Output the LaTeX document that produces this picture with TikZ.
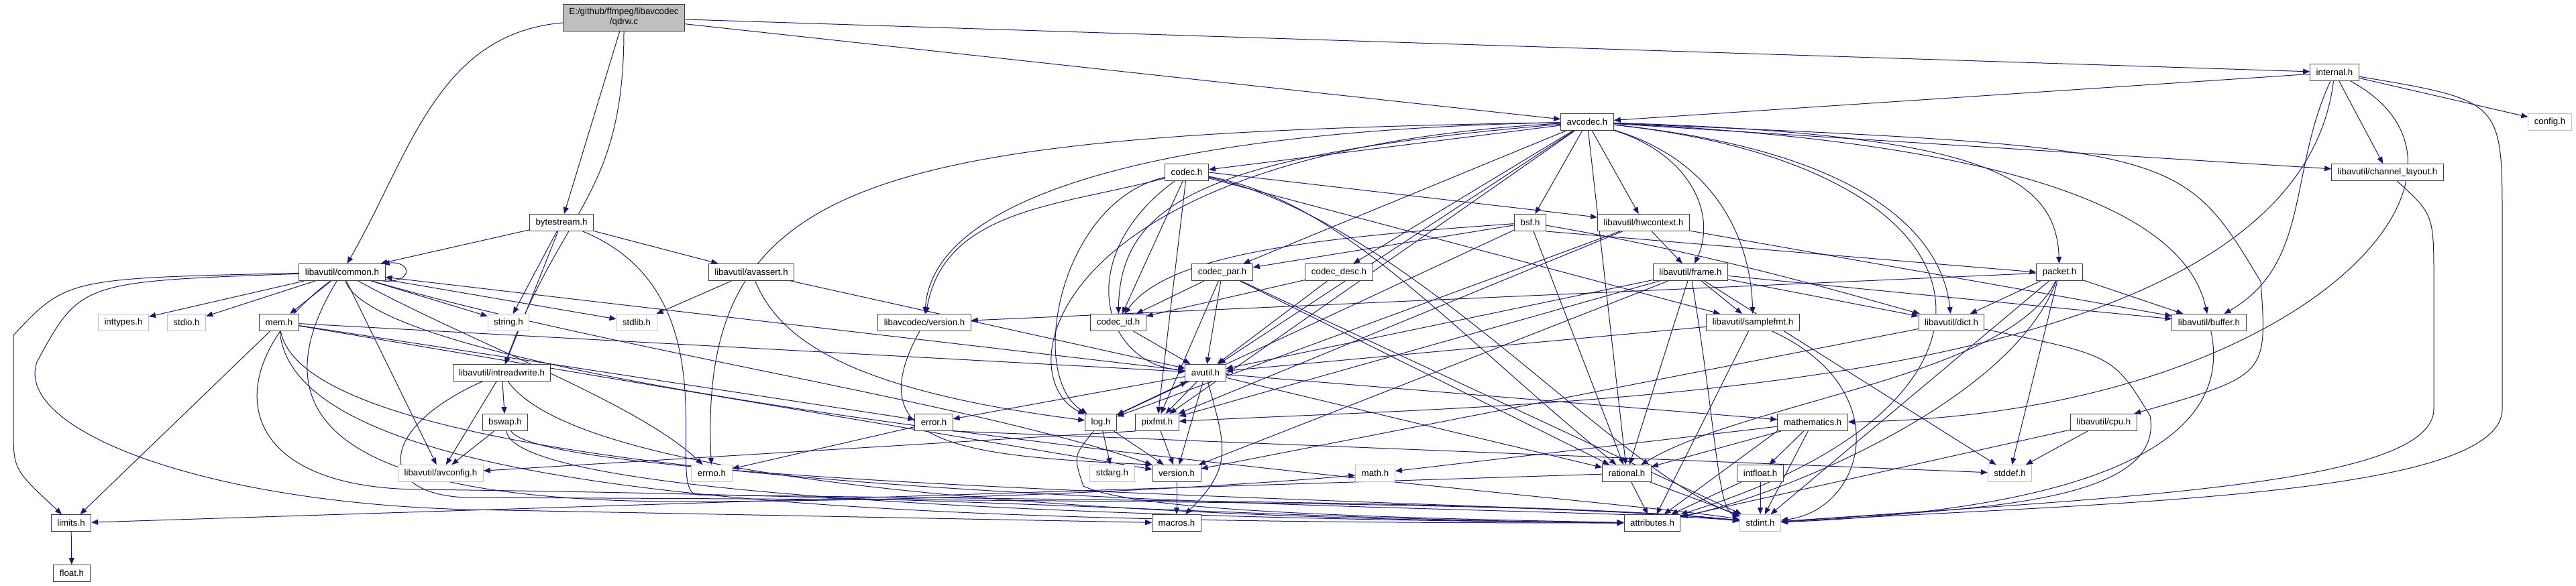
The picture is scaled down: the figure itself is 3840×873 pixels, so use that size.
\documentclass[tikz,border=0pt]{standalone}
\usepackage{fontspec}
\setmainfont{Liberation Sans}
\usetikzlibrary{arrows.meta, backgrounds}
\definecolor{depblue}{HTML}{191970}
\definecolor{hdredge}{HTML}{404040}
\definecolor{sysedge}{HTML}{BFBFBF}
\definecolor{rootfill}{HTML}{BFBFBF}

\begin{document}
\begin{tikzpicture}[x=1pt, y=1pt,
      hdr/.style={draw=hdredge, fill=white, line width=1pt, inner xsep=9pt, inner ysep=0pt,
                  minimum height=25pt, font=\fontsize{13.3}{15}\selectfont},
      syshdr/.style={hdr, draw=sysedge},
      root/.style={hdr, fill=rootfill, minimum height=40pt, align=center},
      dep/.style={draw=depblue, line width=1pt, -{Triangle[length=10pt, width=8pt]}}]
      \useasboundingbox (0,0) rectangle (3840,-873);

      % headers, rank by rank
      \node[root] (qdrw) at (930,-26) {E:/github/ffmpeg/libavcodec\\/qdrw.c};
      \node[hdr] (internal) at (3480,-108) {internal.h};
      \node[hdr] (avcodec) at (2366,-182) {avcodec.h};
      \node[syshdr] (config) at (3801,-182) {config.h};
      \node[hdr] (codec) at (1769,-257) {codec.h};
      \node[hdr] (chlayout) at (3559,-257) {libavutil/channel\_layout.h};
      \node[hdr] (bytestream) at (837,-332) {bytestream.h};
      \node[hdr] (bsf) at (2281,-332) {bsf.h};
      \node[hdr] (hwctx) at (2450,-332) {libavutil/hwcontext.h};
      \node[hdr] (common) at (510,-406) {libavutil/common.h};
      \node[hdr] (avassert) at (1120,-406) {libavutil/avassert.h};
      \node[hdr] (codecpar) at (1822,-406) {codec\_par.h};
      \node[hdr] (codecdesc) at (1996,-406) {codec\_desc.h};
      \node[hdr] (frame) at (2520,-406) {libavutil/frame.h};
      \node[hdr] (packet) at (3070,-406) {packet.h};
      \node[syshdr] (inttypes) at (184,-481) {inttypes.h};
      \node[syshdr] (stdio) at (278,-481) {stdio.h};
      \node[hdr] (mem) at (416,-481) {mem.h};
      \node[syshdr] (string) at (758,-481) {string.h};
      \node[syshdr] (stdlib) at (949,-481) {stdlib.h};
      \node[hdr] (lavcver) at (1378,-481) {libavcodec/version.h};
      \node[hdr] (codecid) at (1667,-481) {codec\_id.h};
      \node[hdr] (samplefmt) at (2613,-481) {libavutil/samplefmt.h};
      \node[hdr] (dict) at (2909,-481) {libavutil/dict.h};
      \node[hdr] (buffer) at (3293,-481) {libavutil/buffer.h};
      \node[hdr] (intrw) at (748,-556) {libavutil/intreadwrite.h};
      \node[hdr] (avutil) at (1797,-556) {avutil.h};
      \node[hdr] (bswap) at (753,-630) {bswap.h};
      \node[hdr] (error) at (1392,-630) {error.h};
      \node[hdr] (log) at (1641,-630) {log.h};
      \node[hdr] (pixfmt) at (1725,-630) {pixfmt.h};
      \node[hdr] (mathematics) at (2702,-630) {mathematics.h};
      \node[hdr] (cpu) at (3136,-630) {libavutil/cpu.h};
      \node[syshdr] (avconfig) at (657,-706) {libavutil/avconfig.h};
      \node[syshdr] (errno) at (1061,-706) {errno.h};
      \node[syshdr] (stdarg) at (1658,-706) {stdarg.h};
      \node[hdr] (version) at (1754,-706) {version.h};
      \node[syshdr] (math) at (2050,-706) {math.h};
      \node[hdr] (rational) at (2425,-706) {rational.h};
      \node[hdr] (intfloat) at (2624,-706) {intfloat.h};
      \node[syshdr] (stddef) at (2996,-706) {stddef.h};
      \node[hdr] (limits) at (106,-780) {limits.h};
      \node[hdr] (macros) at (1754,-780) {macros.h};
      \node[hdr] (attributes) at (2463,-780) {attributes.h};
      \node[syshdr] (stdint) at (2624,-780) {stdint.h};
      \node[hdr] (float) at (107,-855) {float.h};

      \begin{scope}[on background layer]
      \fill[white] (0,0) rectangle (3840,-873);

      % straight includes
      \foreach \a/\b in {qdrw/bytestream, qdrw/avcodec, qdrw/internal,
          internal/avcodec, internal/config, internal/chlayout,
          avcodec/codec, avcodec/bsf, avcodec/hwctx, avcodec/codecdesc, avcodec/codecpar,
          avcodec/avutil, avcodec/pixfmt, avcodec/chlayout, avcodec/rational,
          codec/codecid, codec/pixfmt, codec/samplefmt,
          codecpar/avutil, codecpar/codecid, codecpar/pixfmt, codecpar/rational, codecpar/stdint,
          codecdesc/codecid, codecdesc/avutil, codecid/avutil,
          bsf/codecpar, bsf/rational, bsf/log,
          hwctx/frame, hwctx/buffer, hwctx/log, hwctx/pixfmt,
          frame/dict, frame/buffer, frame/samplefmt, frame/avutil, frame/pixfmt,
          frame/version, frame/rational, frame/stddef,
          packet/dict, packet/buffer, packet/stddef, packet/stdint, packet/lavcver,
          samplefmt/avutil, samplefmt/attributes, dict/version,
          cpu/stddef, cpu/attributes,
          mathematics/math, mathematics/rational, mathematics/intfloat, mathematics/stdint,
          intfloat/stdint, intfloat/attributes,
          rational/attributes, rational/stdint, rational/limits,
          version/macros, log/stdarg, log/version, log/avutil, pixfmt/version, error/errno,
          avutil/common, avutil/error, avutil/log, avutil/pixfmt, avutil/version,
          avutil/rational, avutil/mathematics,
          mem/limits, mem/error, mem/avutil, mem/version,
          intrw/avconfig, intrw/bswap, bswap/avconfig,
          common/inttypes, common/stdio, common/mem, common/string, common/stdlib,
          common/avconfig,
          bytestream/common, bytestream/string, bytestream/intrw, bytestream/avassert,
          avassert/stdlib, avassert/avutil, limits/float}
        \draw[dep] (\a) -- (\b);

      \draw[dep] (codec.east) -- (hwctx);
      \draw[dep] (bsf.south east) -- (packet.west);
      \draw[dep] (pixfmt.south west) -- (avconfig);
      \draw[dep] (error.south east) -- (stddef);
      \draw[dep] (mathematics.south west) -- (attributes);

      % bent includes
      \draw[dep] (qdrw) to[out=185, in=60] (common);
      \draw[dep] (qdrw) to[out=-90, in=70, looseness=1.2] (intrw);
      \draw[dep] (internal) to[out=-115, in=30] (buffer);
      \draw[dep] (internal) .. controls (3420,-600) and (2300,-600) .. (pixfmt);
      \draw[dep] (internal) .. controls (3760,-260) and (3420,-620) .. (mathematics);
      \draw[dep] (internal) .. controls (3730,-150) .. (3730,-330) -- (3730,-610)
          .. controls (3730,-740) and (3150,-750) .. (stdint);
      \draw[dep] (chlayout) .. controls (3628,-320) .. (3628,-420) -- (3628,-610)
          .. controls (3628,-725) and (3150,-742) .. (stdint);
      \draw[dep] (avcodec) .. controls (2520,-230) and (2560,-320) .. (frame);
      \draw[dep] (avcodec) .. controls (2950,-200) and (3065,-260) .. (packet);
      \draw[dep] (avcodec) .. controls (3050,-215) and (3260,-330) .. (buffer);
      \draw[dep] (avcodec) .. controls (2780,-225) and (2895,-350) .. (dict);
      \draw[dep] (avcodec) .. controls (2560,-240) and (2610,-360) .. (samplefmt);
      \draw[dep] (avcodec) .. controls (3250,-220) .. (3370,-420) .. controls (3380,-560) .. (cpu);
      \draw[dep] (avcodec) .. controls (3000,-250) and (3050,-600) .. (attributes);
      \draw[dep] (avcodec) .. controls (1300,-200) and (1040,-260) .. (errno);
      \draw[dep] (avcodec) .. controls (1700,-195) and (1390,-300) .. (lavcver);
      \draw[dep] (avcodec) .. controls (1560,-225) and (1500,-560) .. (log);
      \draw[dep] (avcodec) .. controls (1800,-230) and (1670,-300) .. (codecid);
      \draw[dep] (codec) to[out=195, in=80] (lavcver);
      \draw[dep] (codec) .. controls (1580,-300) and (1530,-560) .. (log);
      \draw[dep] (codec) .. controls (1600,-380) and (1640,-540) .. (avutil);
      \draw[dep] (codec) .. controls (2000,-300) and (2150,-480) .. (rational);
      \draw[dep] (codec) .. controls (2100,-330) and (2400,-700) .. (stdint);
      \draw[dep] (bsf) .. controls (2560,-380) and (2760,-440) .. (dict);
      \draw[dep] (bsf) .. controls (1950,-355) and (1740,-380) .. (codecid);
      \draw[dep] (packet) .. controls (3000,-560) and (2600,-600) .. (rational);
      \draw[dep] (packet) .. controls (3000,-600) and (2650,-740) .. (attributes);
      \draw[dep] (frame) .. controls (2560,-650) and (2560,-760) .. (stdint);
      \draw[dep] (samplefmt) .. controls (2830,-580) and (2780,-760) .. (stdint);
      \draw[dep] (dict) .. controls (3150,-530) .. (3205,-620)
          .. controls (3230,-760) and (2900,-760) .. (stdint);
      \draw[dep] (buffer) .. controls (3340,-700) and (3000,-765) .. (stdint);
      \draw[dep] (lavcver) .. controls (1280,-660) and (1420,-680) .. (version.north west);
      \draw[dep] (log) .. controls (1600,-680) .. (1615,-725)
          .. controls (1680,-755) and (1900,-770) .. (attributes);
      \draw[dep] (avutil) to[out=-75, in=45, looseness=1.3] (macros);
      \draw[dep] (avassert) .. controls (1160,-500) and (1250,-580) .. (log);

      % long runs from the left along the bottom
      \draw[dep] (common) .. controls (100,-415) .. (20,-500) -- (20,-640)
          .. controls (20,-700) .. (limits);
      \draw[dep] (common) .. controls (120,-420) .. (55,-540)
          .. controls (20,-640) and (300,-750) .. (700,-760) -- (macros);
      \draw[dep] (common) .. controls (330,-540) and (330,-725) .. (620,-730)
          .. controls (1500,-740) and (1900,-775) .. (attributes);
      \draw[dep] (common) .. controls (582,-603) and (2417,-744) .. (stdint);
      \draw[dep] (common) .. controls (380,-620) and (500,-745) .. (1000,-748)
          .. controls (1500,-748) and (1900,-720) .. (math);
      \draw[dep] (common) .. controls (700,-510) and (950,-600) .. (errno);
      \draw[dep] (common) .. controls (900,-520) and (1450,-600) .. (version);
      \draw[dep] ([xshift=-4pt]common.south east) .. controls +(45,-4) and +(45,4)
          .. ([xshift=-4pt]common.north east);
      \draw[dep] (mem) .. controls (440,-760) and (1400,-780) .. (attributes);
      \draw[dep] (mem) .. controls (470,-770) and (2300,-748) .. (stdint);
      \draw[dep] (intrw) .. controls (880,-740) and (1800,-775) .. (attributes);
      \draw[dep] (intrw) .. controls (560,-640) and (560,-740) .. (700,-742)
          .. controls (1500,-746) and (2350,-748) .. (stdint);
      \draw[dep] (bswap) .. controls (770,-750) and (1800,-775) .. (attributes);
      \draw[dep] (bswap) .. controls (820,-730) and (2350,-748) .. (stdint);
      \draw[dep] (bytestream) .. controls (1100,-440) and (985,-735) .. (1040,-738)
          .. controls (1800,-748) and (2350,-750) .. (stdint);
      \end{scope}
    \end{tikzpicture}
\end{document}
